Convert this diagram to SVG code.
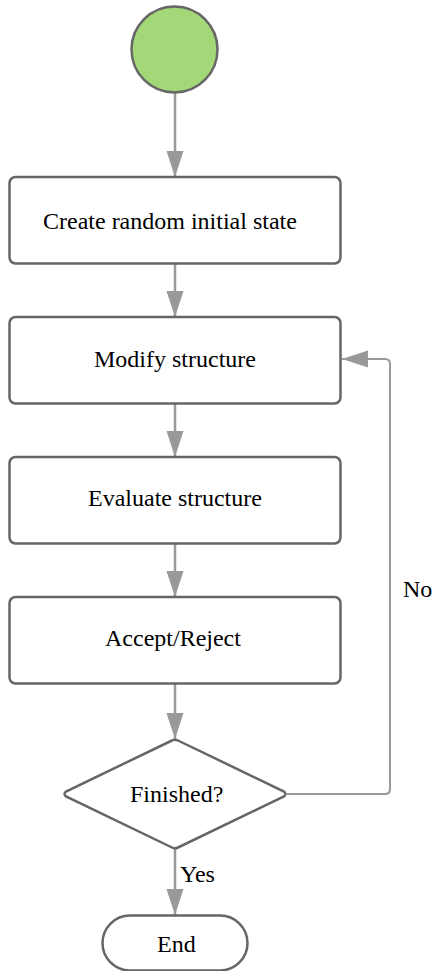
<svg xmlns="http://www.w3.org/2000/svg" width="433" height="971" viewBox="0 0 433 971">
<style>
.box{fill:#fff;stroke:#666;stroke-width:2.5}
.lbl{font-family:"Liberation Serif","Times New Roman",serif;font-size:24px;fill:#000}
.edge{fill:none;stroke:#999;stroke-width:2.5}
.loop{fill:none;stroke:#999;stroke-width:2}
</style>
<defs>
<marker id="ah" markerUnits="userSpaceOnUse" markerWidth="27" markerHeight="18" refX="26" refY="8.5" orient="auto">
<path d="M0,0 L26,8.5 L0,17 Z" fill="#999"/>
</marker>
</defs>
<rect width="433" height="971" fill="#fff"/>
<g id="connectors">
<path class="edge" d="M175,93 L175,177" marker-end="url(#ah)"/>
<path class="edge" d="M175,264 L175,317" marker-end="url(#ah)"/>
<path class="edge" d="M175,404 L175,457" marker-end="url(#ah)"/>
<path class="edge" d="M175,544 L175,597" marker-end="url(#ah)"/>
<path class="edge" d="M175,684 L175,739" marker-end="url(#ah)"/>
<path class="edge" d="M175,849 L175,915" marker-end="url(#ah)"/>
<path class="loop" d="M287,794 L385,794 Q390,794 390,789 L390,364 Q390,359 385,359 L342,359" marker-end="url(#ah)"/>
<text class="lbl" x="180" y="882">Yes</text>
<text class="lbl" x="403" y="597">No</text>
</g>
<g id="start">
<circle cx="174.5" cy="49.5" r="43" fill="#a2d877" stroke="#666" stroke-width="2.5"/>
</g>
<g id="create">
<rect class="box" x="9.5" y="177" width="331" height="86.5" rx="6"/>
<text class="lbl" x="43" y="229">Create random initial state</text>
</g>
<g id="modify">
<rect class="box" x="9.5" y="317" width="331" height="86.5" rx="6"/>
<text class="lbl" x="94" y="367">Modify structure</text>
</g>
<g id="evaluate">
<rect class="box" x="9.5" y="457" width="331" height="86.5" rx="6"/>
<text class="lbl" x="88" y="506">Evaluate structure</text>
</g>
<g id="accept">
<rect class="box" x="9.5" y="597" width="331" height="86.5" rx="6"/>
<text class="lbl" x="105" y="646">Accept/Reject</text>
</g>
<g id="finished">
<path class="box" d="M172,740.5 Q175,739 178,740.5 L284,791.5 Q287,794 284,796.5 L178,847.5 Q175,849 172,847.5 L66,796.5 Q63,794 66,791.5 Z"/>
<text class="lbl" x="130" y="802">Finished?</text>
</g>
<g id="end">
<rect class="box" x="102.5" y="915.5" width="145" height="55" rx="27.5"/>
<text class="lbl" x="157" y="952">End</text>
</g>
</svg>
